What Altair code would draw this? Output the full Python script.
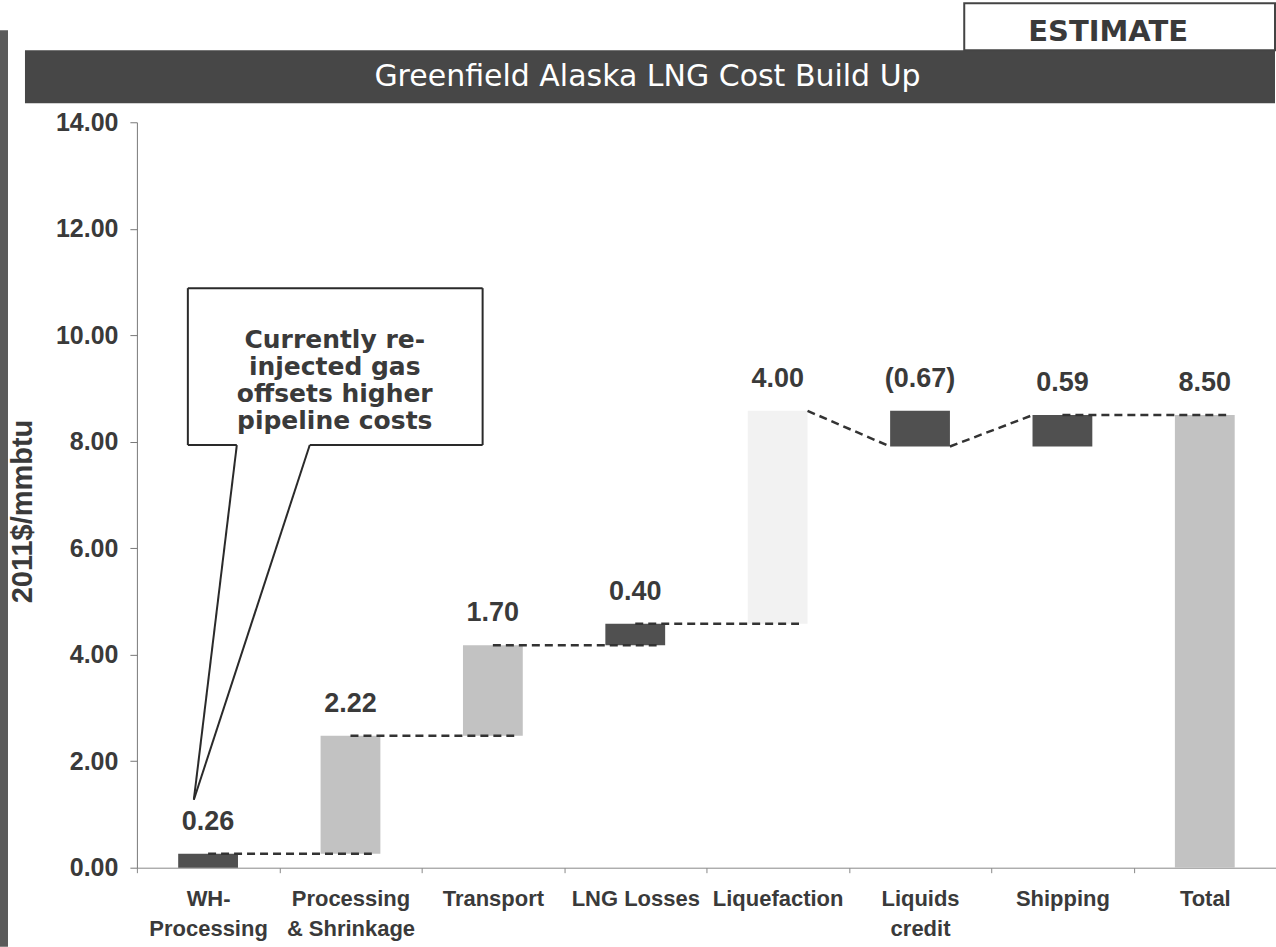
import altair as alt
import pandas as pd

# ---- data ----
categories = ["WH-|Processing", "Processing|& Shrinkage", "Transport", "LNG Losses",
              "Liquefaction", "Liquids|credit", "Shipping", "Total"]
values = [0.26, 2.22, 1.70, 0.40, 4.00, -0.67, 0.59, 8.50]
value_labels = ["0.26", "2.22", "1.70", "0.40", "4.00", "(0.67)", "0.59", "8.50"]
kinds = ["dark", "light", "light", "dark", "faint", "dark", "dark", "light"]
is_total = [False, False, False, False, False, False, False, True]
sloped_after = [4, 5]  # connectors drawn as slanted lines after these steps
y_ticks = [0, 2, 4, 6, 8, 10, 12, 14]
callout_lines = ["Currently re-", "injected gas", "offsets higher", "pipeline costs"]

FONT = "Liberation Sans, Arial, Helvetica, sans-serif"
TXT = "#3a3a3a"

# ---- waterfall table ----
rows = []
run = 0.0
for cat, v, lab, k, tot in zip(categories, values, value_labels, kinds, is_total):
    if tot:
        start, end = 0.0, v
    else:
        start, end = run, run + v
    run = end
    rows.append(dict(cat=cat, start=start, end=end, top=max(start, end), label=lab, kind=k))
df = pd.DataFrame(rows)

hconn, sconn = [], []
for i in range(len(rows) - 1):
    if i in sloped_after:
        sconn.append(dict(a=rows[i]["cat"], b=rows[i + 1]["cat"], y=rows[i]["end"], y2=rows[i + 1]["end"]))
    else:
        hconn.append(dict(a=rows[i]["cat"], b=rows[i + 1]["cat"], y=rows[i]["end"], y2=rows[i]["end"]))
hdf = pd.DataFrame(hconn)
sdf = pd.DataFrame(sconn)

W, H = 1140, 746
xscale = alt.Scale(domain=categories, paddingInner=0, paddingOuter=0)
yscale = alt.Scale(domain=[0, 14], nice=False)

xaxis = alt.Axis(title=None, labelAngle=0, tickBand="extent",
                 labelExpr="split(datum.label, '|')",
                 labelFont=FONT, labelFontSize=22, labelFontWeight="bold", labelColor=TXT,
                 labelLineHeight=30, labelPadding=16, tickSize=5, tickColor="#888",
                 domainColor="#888", labelOverlap=False, labelLimit=300)
yaxis = alt.Axis(title="2011$/mmbtu", values=y_ticks, format=".2f", grid=False,
                 labelFont=FONT, labelFontSize=25, labelFontWeight="bold", labelColor=TXT,
                 labelPadding=12, tickSize=7, tickColor="#777", domainColor="#777",
                 titleFont=FONT, titleFontSize=29, titleFontWeight="bold", titleColor=TXT,
                 titleX=-114, titleY=389, titleBaseline="middle", titleAlign="center")

base = alt.Chart(df)

bars = base.mark_bar(width=alt.RelativeBandSize(0.42)).encode(
    x=alt.X("cat:N", scale=xscale, axis=xaxis, sort=categories),
    y=alt.Y("start:Q", scale=yscale, axis=yaxis),
    y2="end:Q",
    color=alt.Color("kind:N", legend=None,
                    scale=alt.Scale(domain=["dark", "light", "faint"],
                                    range=["#505050", "#c2c2c2", "#f2f2f2"])),
)

labels = base.mark_text(font=FONT, fontSize=27, fontWeight="bold", color=TXT,
                        baseline="alphabetic", dy=-24).encode(
    x=alt.X("cat:N", scale=xscale, sort=categories),
    y=alt.Y("top:Q", scale=yscale),
    text="label:N",
)

hlines = alt.Chart(hdf).mark_rule(color="#333", strokeWidth=2.5, strokeDash=[8, 5]).encode(
    x=alt.X("a:N", scale=xscale, sort=categories, bandPosition=0.5),
    x2=alt.X2("b:N", bandPosition=0.65),
    y=alt.Y("y:Q", scale=yscale),
    y2="y2:Q",
)
slines = alt.Chart(sdf).mark_rule(color="#333", strokeWidth=2.5, strokeDash=[8, 5]).encode(
    x=alt.X("a:N", scale=xscale, sort=categories, bandPosition=0.71),
    x2=alt.X2("b:N", bandPosition=0.29),
    y=alt.Y("y:Q", scale=yscale),
    y2="y2:Q",
)

# ---- decorations (pixel space) ----
dummy = alt.Chart(pd.DataFrame({"d": [0]}))

title_bar = dummy.mark_rect(color="#474747").encode(
    x=alt.value(-112), x2=alt.value(1139), y=alt.value(-72), y2=alt.value(-19))
title_txt = dummy.mark_text(text="Greenfield Alaska LNG Cost Build Up", font="DejaVu Sans",
                            fontSize=30, color="white", baseline="middle", align="center").encode(
    x=alt.value(511), y=alt.value(-45))

est_box = dummy.mark_rect(fill="white", stroke="#444", strokeWidth=2).encode(
    x=alt.value(828), x2=alt.value(1139), y=alt.value(-119), y2=alt.value(-72))
est_txt = dummy.mark_text(text="ESTIMATE", font="DejaVu Sans", fontSize=29, fontWeight="bold",
                          color="#3a3a3a", baseline="middle", align="center").encode(
    x=alt.value(972), y=alt.value(-90))

strip = dummy.mark_rect(color="#5a5a5a").encode(
    x=alt.value(-137), x2=alt.value(-129), y=alt.value(-92), y2=alt.value(825))

call_fill = dummy.mark_rect(fill="white").encode(
    x=alt.value(51), x2=alt.value(346), y=alt.value(166), y2=alt.value(323))
seg = pd.DataFrame([
    dict(x=51, y=166, x2=346, y2=166),
    dict(x=346, y=166, x2=346, y2=323),
    dict(x=346, y=323, x2=173, y2=323),
    dict(x=173, y=323, x2=57, y2=678),
    dict(x=57, y=678, x2=100, y2=323),
    dict(x=100, y=323, x2=51, y2=323),
    dict(x=51, y=323, x2=51, y2=166),
])
call_lines = alt.Chart(seg).mark_rule(color="#2a2a2a", strokeWidth=2).encode(
    x=alt.X("x:Q", scale=None), x2="x2:Q",
    y=alt.Y("y:Q", scale=None), y2="y2:Q")
call_txt = dummy.mark_text(text=callout_lines, font="DejaVu Sans", fontSize=25, fontWeight="bold",
                           color="#3a3a3a", baseline="top", align="center", lineHeight=27).encode(
    x=alt.value(198), y=alt.value(206))

chart = alt.layer(
    strip, title_bar, title_txt, est_box, est_txt,
    bars, hlines, slines, labels,
    call_fill, call_lines, call_txt,
).resolve_scale(x="shared", y="shared").properties(
    width=W, height=H,
    autosize=alt.AutoSizeParams(type="none"),
    padding={"left": 137, "top": 122, "right": 0, "bottom": 79},
    background="white",
).configure_view(stroke=None)

chart.save("out.html", embed_options={"renderer": "svg", "actions": False})
